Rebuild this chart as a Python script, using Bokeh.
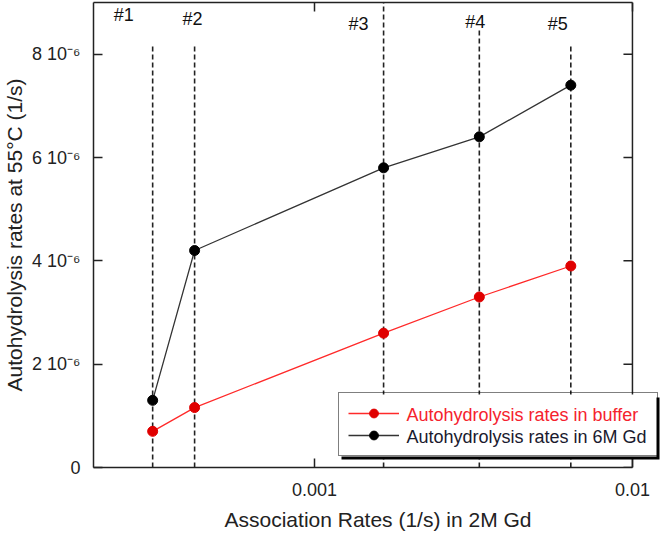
import math
from bokeh.plotting import figure
from bokeh.models import (Range1d, LogAxis, FixedTicker, CustomJSTickFormatter,
                          Legend, LegendItem, ColumnDataSource, Label, BoxAnnotation)
from bokeh.core.properties import value
from bokeh.embed import file_html
from bokeh.resources import INLINE

# ---------------- data ----------------
sample_labels = ["#1", "#2", "#3", "#4", "#5"]
assoc_rates = [3.1e-4, 4.2e-4, 1.65e-3, 3.3e-3, 6.4e-3]          # 1/s in 2M Gd
rates_buffer = [0.70e-6, 1.16e-6, 2.60e-6, 3.30e-6, 3.90e-6]      # autohydrolysis in buffer
rates_6M = [1.30e-6, 4.20e-6, 5.80e-6, 6.40e-6, 7.40e-6]          # autohydrolysis in 6M Gd
guide_top = [8.2e-6, 8.2e-6, 9.0e-6, 8.5e-6, 8.2e-6]             # top of dashed guide lines
label_y = [8.75e-6, 8.68e-6, 8.58e-6, 8.62e-6, 8.58e-6]          # y of "#n" labels
label_dx = [-29, -2, -25, -4, -13]                               # px offset of "#n" labels
x_ticks = [0.001, 0.01]
y_ticks = [0, 2e-6, 4e-6, 6e-6, 8e-6]
X_MIN, X_MAX = 2.02e-4, 0.01          # plotted box extent (x)
Y_MIN, Y_MAX = 0.0, 9e-6              # plotted box extent (y)
X_CANVAS_END = 0.01243                # extra room on the right so the legend can overhang

FONT = "Liberation Sans"
RED_LINE = "#ff2a2a"
RED_MARK = "#e00000"
RED_TEXT = "#f5222d"
DARK = "#222222"

p = figure(width=666, height=533, x_axis_type="log",
           x_range=Range1d(X_MIN, X_CANVAS_END), y_range=Range1d(Y_MIN, Y_MAX),
           output_backend="svg", toolbar_location=None,
           min_border_left=93, min_border_right=4, min_border_top=2, min_border_bottom=66)
p.grid.visible = False
p.background_fill_color = "white"
p.border_fill_color = "white"
p.outline_line_color = None

# axes
p.xaxis.ticker = FixedTicker(ticks=x_ticks)
p.xaxis.formatter = CustomJSTickFormatter(code="return tick.toString();")
p.xaxis.bounds = (X_MIN, X_MAX)
p.yaxis.ticker = FixedTicker(ticks=y_ticks)
p.yaxis.formatter = CustomJSTickFormatter(
    code="if (tick == 0) { return '0'; } return Math.round(tick*1e6) + ' 10\u207b\u2076';")
for ax in (p.xaxis[0], p.yaxis[0]):
    ax.major_tick_in = 9
    ax.major_tick_out = 0
    ax.minor_tick_in = 0
    ax.minor_tick_out = 0
    ax.axis_line_color = DARK
    ax.axis_line_width = 1.5
    ax.major_tick_line_color = DARK
    ax.major_tick_line_width = 1.5
    ax.major_label_text_font = FONT
    ax.major_label_text_font_size = "18px"
    ax.major_label_text_color = "#222222"
    ax.axis_label_text_font = FONT
    ax.axis_label_text_font_style = "normal"
    ax.axis_label_text_color = "#222222"
    ax.axis_label_text_font_size = "21px"
p.xaxis.axis_label = "Association Rates (1/s) in 2M Gd"
p.xaxis.major_label_standoff = 15
p.xaxis.axis_label_standoff = 9
p.yaxis.axis_label = "Autohydrolysis rates at 55\u00b0C (1/s)"
p.yaxis.major_label_standoff = 13
p.yaxis.axis_label_standoff = 3

# top frame edge with mirrored tick
top_ax = LogAxis(ticker=FixedTicker(ticks=x_ticks), bounds=(X_MIN, X_MAX))
top_ax.major_tick_in = 9
top_ax.major_tick_out = 0
top_ax.minor_tick_in = 0
top_ax.minor_tick_out = 0
top_ax.axis_line_color = DARK
top_ax.axis_line_width = 1.5
top_ax.major_tick_line_color = DARK
top_ax.major_tick_line_width = 1.5
top_ax.major_label_text_font_size = "0px"
top_ax.major_label_standoff = 0
top_ax.major_label_text_color = None
p.add_layout(top_ax, "above")

# right frame edge with mirrored ticks
p.segment(x0=[X_MAX], y0=[Y_MIN], x1=[X_MAX], y1=[Y_MAX], line_color=DARK, line_width=1.5)
p.ray(x=[X_MAX] * len(y_ticks), y=y_ticks, length=9, length_units="screen",
      angle=math.pi, line_color=DARK, line_width=1.5)

# dashed guide lines and sample labels
guides = ColumnDataSource(dict(x=assoc_rates, y0=[Y_MIN] * len(assoc_rates), y1=guide_top))
p.segment(x0="x", y0="y0", x1="x", y1="y1", source=guides,
          line_color=DARK, line_width=1.6, line_dash="5 3")
labels = ColumnDataSource(dict(x=assoc_rates, y=label_y, t=sample_labels, dx=label_dx))
p.text(x="x", y="y", text="t", x_offset="dx", source=labels,
       text_font=value(FONT), text_font_size="18px", text_color="#111111",
       text_align="center", text_baseline="middle")

# series
src = ColumnDataSource(dict(x=assoc_rates, buf=rates_buffer, gd=rates_6M))
l_buf = p.line("x", "buf", source=src, line_color=RED_LINE, line_width=1.3)
m_buf = p.scatter("x", "buf", source=src, marker="circle", size=10,
                  fill_color=RED_MARK, line_color=RED_MARK)
l_gd = p.line("x", "gd", source=src, line_color="#333333", line_width=1.3)
m_gd = p.scatter("x", "gd", source=src, marker="circle", size=10,
                 fill_color="#000000", line_color="#000000")

# legend: shadow + white backdrop (box annotations), coloured texts, then legend frame+glyphs
name_buf = "Autohydrolysis rates in buffer"
name_gd = "Autohydrolysis rates in 6M Gd"
PAD, GW, ROW, STAND, LW = 9, 51, 22, 8, 241
LX, LY = 245, 11
BW = PAD + GW + STAND + LW + PAD
BH = 2 * ROW + 2 * PAD
SH = 3

def screen_box(l, r, b, t, color):
    return BoxAnnotation(left=l, right=r, bottom=b, top=t,
                         left_units="screen", right_units="screen",
                         bottom_units="screen", top_units="screen",
                         fill_color=color, fill_alpha=1.0, line_color=None)

p.add_layout(screen_box(LX + SH, LX + BW + SH, LY - SH, LY + BH - SH, "black"))
p.add_layout(screen_box(LX, LX + BW, LY, LY + BH, "white"))

tx = LX + PAD + GW + STAND
p.add_layout(Label(x=tx, y=LY + PAD + ROW + ROW / 2, x_units="screen", y_units="screen",
                   text=name_buf, text_font=FONT, text_font_size="18px",
                   text_color=RED_TEXT, text_baseline="middle", text_align="left"))
p.add_layout(Label(x=tx, y=LY + PAD + ROW / 2, x_units="screen", y_units="screen",
                   text=name_gd, text_font=FONT, text_font_size="18px",
                   text_color="#1a1a2e", text_baseline="middle", text_align="left"))

box = Legend(items=[LegendItem(label=" ", renderers=[l_buf, m_buf]),
                    LegendItem(label="  ", renderers=[l_gd, m_gd])],
             location=(LX, LY), glyph_width=GW, glyph_height=ROW, label_height=ROW,
             label_standoff=STAND, label_width=LW, spacing=0, padding=PAD, margin=0,
             label_text_font=FONT, label_text_font_size="18px", label_text_alpha=0,
             background_fill_alpha=0, border_line_color="black", border_line_width=1.5)
p.add_layout(box, "center")

open("out.html", "w", encoding="utf-8").write(file_html(p, INLINE))
